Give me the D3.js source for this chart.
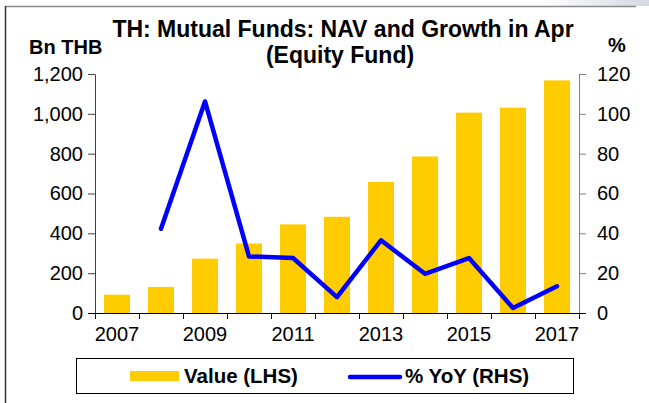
<!DOCTYPE html>
<html>
<head>
<meta charset="utf-8">
<script src="https://cdn.jsdelivr.net/npm/d3@7"></script>
<style>
  body { margin: 0; background: #fff; }
  text { font-family: Arial, "Liberation Sans", sans-serif; fill: #000; }
</style>
</head>
<body>
<div id="chart"></div>
<script>
const width = 649;
const height = 403;

// values
const years = [2007, 2008, 2009, 2010, 2011, 2012, 2013, 2014, 2015, 2016, 2017];
const navValue = [92, 131, 273, 349, 445, 483, 658, 786, 1006, 1031, 1168];
const yoyGrowth = [null, 42.3, 106.2, 28.4, 27.6, 8.0, 36.5, 19.7, 27.6, 2.5, 13.4];
const leftTicks = [0, 200, 400, 600, 800, 1000, 1200];
const rightTicks = [0, 20, 40, 60, 80, 100, 120];
const yearLabels = [2007, 2009, 2011, 2013, 2015, 2017];

const plot = { left: 95, right: 579, top: 74, bottom: 313 };

const svg = d3.select("#chart")
  .append("svg")
  .attr("width", width)
  .attr("height", height);

// outer frame (top and left edges only visible)
const grad = svg.append("defs").append("linearGradient")
  .attr("id", "shade")
  .attr("x1", "0").attr("x2", "1");
grad.append("stop").attr("offset", "0").attr("stop-color", "#fff");
grad.append("stop").attr("offset", "1").attr("stop-color", "#d5d8e0");
svg.append("rect")
  .attr("x", 540).attr("y", 0).attr("width", 109).attr("height", 6)
  .attr("fill", "url(#shade)");
svg.append("line")
  .attr("x1", 5).attr("x2", 636).attr("y1", 6.5).attr("y2", 6.5)
  .attr("stroke", "#8a8a8a").attr("stroke-width", 1.5);
svg.append("line")
  .attr("x1", 5.5).attr("x2", 5.5).attr("y1", 6).attr("y2", height)
  .attr("stroke", "#333").attr("stroke-width", 1.5);

const xScale = d3.scaleBand()
  .domain(years)
  .range([plot.left, plot.right])
  .paddingInner(0.41)
  .paddingOuter(0.205);

const xEdge = d3.scaleLinear()
  .domain([0, years.length])
  .range([plot.left, plot.right]);

const yLeft = d3.scaleLinear()
  .domain([0, 1200])
  .range([plot.bottom, plot.top]);

const yRight = d3.scaleLinear()
  .domain([0, 120])
  .range([plot.bottom, plot.top]);

// bars
svg.selectAll(".bar")
  .data(years)
  .enter()
  .append("rect")
  .attr("class", "bar")
  .attr("x", function(d) { return xScale(d); })
  .attr("y", function(d, i) { return yLeft(navValue[i]); })
  .attr("width", xScale.bandwidth())
  .attr("height", function(d, i) { return plot.bottom - yLeft(navValue[i]); })
  .attr("fill", "#FFCC00");

// axes
const leftAxis = svg.append("g")
  .attr("transform", "translate(" + plot.left + ",0)")
  .call(d3.axisLeft(yLeft).tickValues(leftTicks).tickFormat(d3.format(",")).tickSize(7).tickSizeOuter(0).tickPadding(5));

const rightAxis = svg.append("g")
  .attr("transform", "translate(" + plot.right + ",0)")
  .call(d3.axisRight(yRight).tickValues(rightTicks).tickSize(7).tickSizeOuter(0).tickPadding(11));

leftAxis.selectAll("path, line").attr("stroke", "#404040");
rightAxis.selectAll("path, line").attr("stroke", "#7f7f7f");
[leftAxis, rightAxis].forEach(function(g) {
  g.selectAll("text").attr("font-size", "20px").attr("font-family", null).attr("fill", "#000");
});

// x axis: ticks on category edges, labels on every other year
const xTicks = svg.append("g")
  .attr("transform", "translate(0," + plot.bottom + ")")
  .call(d3.axisBottom(xEdge).tickValues(d3.range(years.length + 1)).tickFormat("").tickSize(6).tickSizeOuter(0));
xTicks.select(".domain").remove();
xTicks.selectAll("line").attr("stroke", "#000");

svg.append("line")
  .attr("x1", plot.left - 7).attr("x2", plot.right + 7)
  .attr("y1", plot.bottom + 0.5).attr("y2", plot.bottom + 0.5)
  .attr("stroke", "#000");

const xLabels = svg.append("g")
  .attr("transform", "translate(0," + (plot.bottom + 14) + ")")
  .call(d3.axisBottom(xScale).tickValues(yearLabels).tickSize(0).tickPadding(0));
xLabels.select(".domain").remove();
xLabels.selectAll("text").attr("font-size", "20px").attr("font-family", null).attr("fill", "#000");

// growth line
const line = d3.line()
  .defined(function(d) { return d[1] !== null; })
  .x(function(d) { return xScale(d[0]) + xScale.bandwidth() / 2; })
  .y(function(d) { return yRight(d[1]); });

svg.append("path")
  .datum(years.map(function(y, i) { return [y, yoyGrowth[i]]; }))
  .attr("d", line)
  .attr("fill", "none")
  .attr("stroke", "#0000FF")
  .attr("stroke-width", 4.5)
  .attr("stroke-linejoin", "round")
  .attr("stroke-linecap", "round");

// titles
svg.append("text")
  .attr("x", 343).attr("y", 37)
  .attr("text-anchor", "middle")
  .attr("font-size", "23px").attr("font-weight", "bold")
  .text("TH: Mutual Funds: NAV and Growth in Apr");

svg.append("text")
  .attr("x", 340).attr("y", 63)
  .attr("text-anchor", "middle")
  .attr("font-size", "23px").attr("font-weight", "bold")
  .text("(Equity Fund)");

svg.append("text")
  .attr("x", 29).attr("y", 54)
  .attr("font-size", "20px").attr("font-weight", "bold")
  .text("Bn THB");

svg.append("text")
  .attr("x", 608).attr("y", 52)
  .attr("font-size", "20px").attr("font-weight", "bold")
  .text("%");

// legend
svg.append("rect")
  .attr("x", 76.5).attr("y", 358.5).attr("width", 497).attr("height", 35)
  .attr("fill", "#fff").attr("stroke", "#000");

svg.append("rect")
  .attr("x", 130).attr("y", 371).attr("width", 49).attr("height", 10)
  .attr("fill", "#FFCC00");

svg.append("text")
  .attr("x", 184).attr("y", 383)
  .attr("font-size", "20.5px").attr("font-weight", "bold")
  .text("Value (LHS)");

svg.append("line")
  .attr("x1", 350).attr("x2", 400).attr("y1", 377).attr("y2", 377)
  .attr("stroke", "#0000FF").attr("stroke-width", 4.5).attr("stroke-linecap", "round");

svg.append("text")
  .attr("x", 405).attr("y", 383)
  .attr("font-size", "20.5px").attr("font-weight", "bold")
  .text("% YoY (RHS)");
</script>
</body>
</html>
